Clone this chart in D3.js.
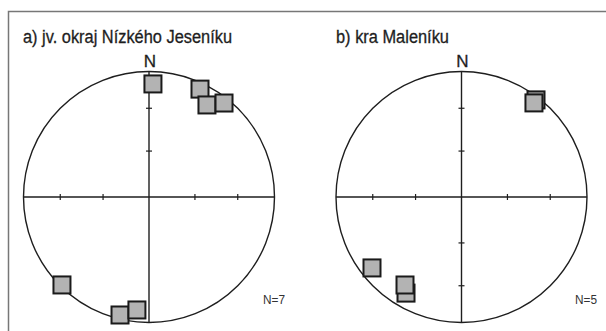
<!DOCTYPE html>
<html><head><meta charset="utf-8">
<script src="https://cdn.jsdelivr.net/npm/d3@7/dist/d3.min.js"></script>
<style>html,body{margin:0;padding:0;background:#fff;}svg{display:block;}</style>
</head><body>
<svg id="c" width="606" height="331"></svg>
<script>
// Data: poles as [azimuth (deg), plunge (deg)], equal-area lower hemisphere
const titles = ["a) jv. okraj Nízkého Jeseníku", "b) kra Maleníku"];
const counts = ["N=7", "N=5"];
const polesA = [[2,10.8],[25.3,5.5],[32.2,14.4],[38.6,4.7],[224.7,1.6],[193.8,3.6],[186.1,10.4]];
const polesB = [[37.5,2.8],[37.6,6.0],[231.6,9.9],[210.0,12.6],[212.7,17.8]];
const tickDips = [30, 60];
const lowerTicks = [false, true];

const svg = d3.select("#c");
const ink = "#1e1e1e";
const fontFam = "'Liberation Sans Narrow','Arial Narrow','Liberation Sans',Arial,sans-serif";

// frame
svg.append("path").attr("d","M8.5,331 L8.5,11.5 L606,11.5").attr("fill","none")
  .attr("stroke","#777").attr("stroke-width",1.5);

const panels = [
  {cx:149, cy:197, r:125.5, poles:polesA, tx:23, nx:263},
  {cx:461.5, cy:197, r:125.5, poles:polesB, tx:336, nx:575}
];
const titleW = [209, 113];

function proj(az, pl){
  const rho = Math.SQRT2 * Math.sin((90 - pl) / 2 * Math.PI / 180);
  const a = az * Math.PI / 180;
  return [rho * Math.sin(a), rho * Math.cos(a)];
}

panels.forEach((p, i) => {
  const x = d3.scaleLinear().domain([-1,1]).range([p.cx - p.r, p.cx + p.r]);
  const y = d3.scaleLinear().domain([-1,1]).range([p.cy + p.r, p.cy - p.r]);
  const g = svg.append("g");
  g.append("text").attr("x", p.tx).attr("y", 43).text(titles[i])
    .attr("font-family", fontFam).attr("font-size", 18).attr("fill", ink)
    .attr("stroke", ink).attr("stroke-width", 0.3)
    .attr("textLength", titleW[i]).attr("lengthAdjust","spacingAndGlyphs");
  g.append("text").attr("x", x(0) + 1).attr("y", 67).attr("text-anchor","middle").text("N")
    .attr("font-family", "'Liberation Sans',Arial,sans-serif").attr("font-size", 17).attr("fill", ink)
    .attr("stroke", ink).attr("stroke-width", 0.3);
  g.append("circle").attr("cx", x(0)).attr("cy", y(0)).attr("r", x(1) - x(0))
    .attr("fill","none").attr("stroke", ink).attr("stroke-width", 1.4);
  g.append("line").attr("x1", x(-1)).attr("x2", x(1)).attr("y1", y(0)).attr("y2", y(0))
    .attr("stroke", ink).attr("stroke-width", 1.4);
  g.append("line").attr("x1", x(0)).attr("x2", x(0)).attr("y1", y(1)).attr("y2", y(-1))
    .attr("stroke", ink).attr("stroke-width", 1.4);
  const tk = tickDips.map(d => Math.SQRT2 * Math.sin((90 - d) / 2 * Math.PI / 180));
  tk.forEach(t => {
    [-t, t].forEach(v => {
      g.append("line").attr("x1", x(v)).attr("x2", x(v)).attr("y1", y(0) - 3).attr("y2", y(0) + 3)
        .attr("stroke", ink).attr("stroke-width", 1.2);
    });
    const vs = lowerTicks[i] ? [t, -t] : [t];
    vs.forEach(v => {
      g.append("line").attr("y1", y(v)).attr("y2", y(v)).attr("x1", x(0) - 3).attr("x2", x(0) + 3)
        .attr("stroke", ink).attr("stroke-width", 1.2);
    });
  });
  const s = 17;
  g.selectAll("rect.pole").data(p.poles).enter().append("rect")
    .attr("x", d => x(proj(d[0], d[1])[0]) - s/2)
    .attr("y", d => y(proj(d[0], d[1])[1]) - s/2)
    .attr("width", s).attr("height", s)
    .attr("fill", "#b3b3b3").attr("stroke", "#1a1a1a").attr("stroke-width", 2);
  g.append("text").attr("x", p.nx).attr("y", 304).text(counts[i])
    .attr("font-family", fontFam).attr("font-size", 12.5).attr("fill", "#333")
    .attr("textLength", 22).attr("lengthAdjust","spacingAndGlyphs");
});
</script>
</body></html>
